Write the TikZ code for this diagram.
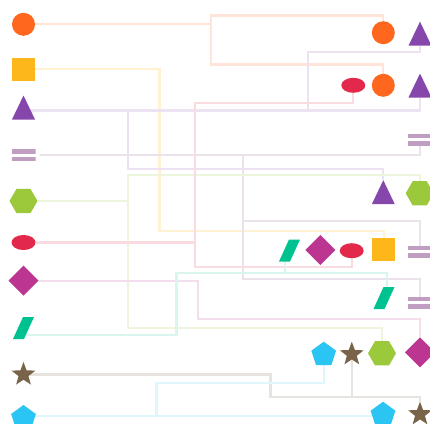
\documentclass[tikz,border=0pt]{standalone}
\usetikzlibrary{shapes.geometric,backgrounds}
\definecolor{corange}{HTML}{FF671F}
\definecolor{camber}{HTML}{FDB71A}
\definecolor{cpurple}{HTML}{8647AD}
\definecolor{cmauve}{HTML}{BF9EC1}
\definecolor{cgreen}{HTML}{9BC93B}
\definecolor{cred}{HTML}{E3294B}
\definecolor{cmagenta}{HTML}{BC3591}
\definecolor{cteal}{HTML}{00C290}
\definecolor{cbrown}{HTML}{7A6449}
\definecolor{csky}{HTML}{2BC5F4}
\tikzset{
 base/.style={inner sep=0pt, outer sep=0pt},
 circ/.style={base, circle, fill=#1, minimum size=23pt},
 sq/.style={base, rectangle, fill=#1, minimum size=23pt},
 tri/.style={base, rectangle, minimum width=23pt, minimum height=24pt,
   path picture={\fill[#1] (path picture bounding box.south west) -- (path picture bounding box.south east) -- (path picture bounding box.north) -- cycle;}},
 eq/.style={base, rectangle, minimum width=24pt, minimum height=12pt,
   path picture={\fill[#1] (path picture bounding box.north west) rectangle ([yshift=-4.5pt]path picture bounding box.north east);
                 \fill[#1] (path picture bounding box.south west) rectangle ([yshift=4.5pt]path picture bounding box.south east);}},
 hexa/.style={base, regular polygon, regular polygon sides=6, fill=#1, minimum size=28pt},
 ell/.style={base, ellipse, fill=#1, minimum width=24pt, minimum height=15pt},
 dia/.style={base, diamond, fill=#1, minimum size=30pt},
 para/.style={base, rectangle, minimum width=21pt, minimum height=22pt,
   path picture={\fill[#1] (path picture bounding box.south west) -- ([xshift=11pt]path picture bounding box.south west) -- (path picture bounding box.north east) -- ([xshift=-11pt]path picture bounding box.north east) -- cycle;}},
 starn/.style={base, star, star points=5, star point ratio=2.4, fill=#1, minimum size=25pt},
 penta/.style={base, regular polygon, regular polygon sides=5, fill=#1, minimum size=26pt},
 conn/.style={line width=2.1pt, draw=#1},
}
\begin{document}
\begin{tikzpicture}[x=1pt,y=-1pt]
\useasboundingbox (0,0) rectangle (430,423);
\clip (0,0) rectangle (430,423);
% left column
\node[circ=corange] (Lc) at (23.5,24.3) {};
\node[sq=camber] (Ls) at (23.5,69.3) {};
\node[tri=cpurple] (Lt) at (23.5,107.5) {};
\node[eq=cmauve] (Le) at (23.5,155.3) {};
\node[hexa=cgreen] (Lh) at (23.5,201) {};
\node[ell=cred] (Lel) at (23.5,242.5) {};
\node[dia=cmagenta] (Ld) at (23.5,280.7) {};
\node[para=cteal] (Lp) at (23.5,328) {};
\node[starn=cbrown] (Lst) at (23.5,374.5) {};
\node[penta=csky] (Lpe) at (23.5,418) {};
% right side
\node[circ=corange] (Rc1) at (383.3,32.7) {};
\node[tri=cpurple] (Rt1) at (420,33.7) {};
\node[ell=cred] (Rel1) at (353.3,85.3) {};
\node[circ=corange] (Rc2) at (383.3,85.3) {};
\node[tri=cpurple] (Rt2) at (420,85.5) {};
\node[eq=cmauve] (Re1) at (420,139.7) {};
\node[tri=cpurple] (Rt3) at (383.3,192.2) {};
\node[hexa=cgreen] (Rh1) at (419.7,193.3) {};
\node[para=cteal] (Rp1) at (289.5,250.5) {};
\node[dia=cmagenta] (Rd1) at (320.3,250) {};
\node[ell=cred] (Rel2) at (351.7,250.7) {};
\node[sq=camber] (Rs) at (383.7,249.2) {};
\node[eq=cmauve] (Re2) at (420,251.5) {};
\node[para=cteal] (Rp2) at (384,298) {};
\node[eq=cmauve] (Re3) at (420,302.7) {};
\node[penta=csky] (Rpe1) at (323.7,354.7) {};
\node[starn=cbrown] (Rst1) at (351.8,354.2) {};
\node[hexa=cgreen] (Rh2) at (382,353.3) {};
\node[dia=cmagenta] (Rd2) at (420,352.3) {};
\node[penta=csky] (Rpe2) at (383,414.7) {};
\node[starn=cbrown] (Rst2) at (420,414.2) {};
% connectors
\coordinate (tS) at ([yshift=-3pt]Lt.center);
\coordinate (eS) at ([xshift=4pt]Le.east);
\coordinate (pS) at ([yshift=-7pt]Lp.center);
\coordinate (pE1) at ([xshift=-4.5pt,yshift=-5pt]Rp1.center);
\coordinate (pE2) at ([xshift=3pt,yshift=5pt]Rp2.center);
\coordinate (qS) at ([yshift=2pt]Lpe.center);
\begin{scope}[on background layer]
\fill[white] (0,0) rectangle (430,423);
\draw[conn=corange!18] (Lc) -| (211,15.5) -| (Rc1);
\draw[conn=corange!18] (Lc) -| (211,64.5) -| (Rc2);
\draw[conn=camber!20] (Ls) -| (159.5,231) -| (Rs);
\draw[conn=cpurple!16] (tS) -| (308.3,51.7) -| (Rt1);
\draw[conn=cpurple!16] (tS) -| (Rt2);
\draw[conn=cpurple!16] (tS) -| (128.3,169) -| (Rt3);
\draw[conn=cmauve!30] (eS) -| (Re1);
\draw[conn=cmauve!30] (eS) -| (243,221) -| (Re2);
\draw[conn=cmauve!30] (eS) -| (243,279) -| (Re3);
\draw[conn=cgreen!18] (Lh) -| (128.3,175) -| (Rh1);
\draw[conn=cgreen!18] (Lh) -| (128.3,328) -| (Rh2);
\draw[conn=cred!17] (Lel) -| (194.8,102.7) -| (Rel1);
\draw[conn=cred!17] (Lel) -| (194.8,266.7) -| (Rel2);
\draw[conn=cmagenta!17] (Ld) -| (198,319) -| (Rd2);
\draw[conn=cteal!15] (pS) -| (176.5,273) -| (pE1);
\draw[conn=cteal!15] (pS) -| (176.5,273) -| (pE2);
\draw[conn=cbrown!18] (Lst) -| (270.5,397) -| (Rst2);
\draw[conn=cbrown!18] (Lst) -| (270.5,397) -| (Rst1);
\draw[conn=csky!15] (qS) -- (qS -| Rpe2.center);
\draw[conn=csky!15] (qS) -| (156.5,383) -| (Rpe1);
\end{scope}
\end{tikzpicture}
\end{document}
